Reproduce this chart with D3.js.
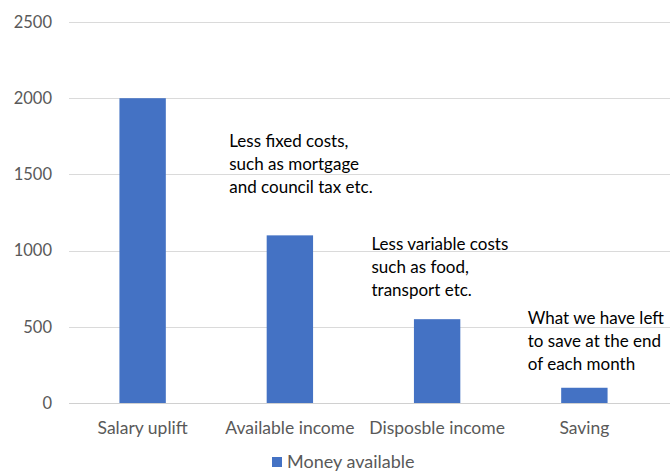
<!DOCTYPE html>
<html>
<head>
<meta charset="utf-8">
<script src="https://cdn.jsdelivr.net/npm/d3@7"></script>
<style>
  body { margin: 0; background: #fff; }
  text { font-family: Lato, "Open Sans", sans-serif; }
</style>
</head>
<body>
<svg id="chart"></svg>
<script>
// chart data
var categories = ["Salary uplift", "Available income", "Disposble income", "Saving"];
var moneyAvailable = [2000, 1100, 550, 100];
var yTicks = [0, 500, 1000, 1500, 2000, 2500];
var noteLines = [
  ["Less fixed costs,", "such as mortgage", "and council tax etc."],
  ["Less variable costs", "such as food,", "transport etc."],
  ["What we have left", "to save at the end", "of each month"]
];
var noteCats = [1, 2, 3];
var noteValues = [1720, 1045, 560];
var noteShift = [13, 8, 17];

var width = 670, height = 471;
var svg = d3.select("#chart").attr("width", width).attr("height", height);

var x = d3.scaleBand().domain(categories).range([69, 658]).padding(0);
var y = d3.scaleLinear().domain([0, 2500]).range([403, 22]);
var barW = x.bandwidth() * 0.315;

// gridlines
svg.append("g").selectAll("line").data(yTicks).join("line")
  .attr("x1", 69).attr("x2", 670)
  .attr("y1", function(d) { return Math.round(y(d)) + 0.5; })
  .attr("y2", function(d) { return Math.round(y(d)) + 0.5; })
  .attr("stroke", function(d) { return d === 0 ? "#d0d0d0" : "#dadada"; })
  .attr("stroke-width", 1);

// y labels
svg.append("g").selectAll("text").data(yTicks).join("text")
  .attr("x", 52).attr("y", function(d) { return y(d); })
  .attr("dy", "0.35em")
  .attr("text-anchor", "end")
  .attr("font-size", 16.5)
  .attr("fill", "#595959")
  .text(function(d) { return d; });

// bars
svg.append("g").selectAll("rect").data(moneyAvailable).join("rect")
  .attr("x", function(d, i) { return x(categories[i]) + x.bandwidth() / 2 - barW / 2; })
  .attr("y", function(d) { return y(d); })
  .attr("width", barW)
  .attr("height", function(d) { return y(0) - y(d); })
  .attr("fill", "#4472c4");

// x labels
svg.append("g").selectAll("text").data(categories).join("text")
  .attr("x", function(d) { return x(d) + x.bandwidth() / 2; })
  .attr("y", 428).attr("dy", "0.35em")
  .attr("text-anchor", "middle")
  .attr("font-size", 17.5)
  .attr("fill", "#595959")
  .text(function(d) { return d; });

// annotations
noteLines.forEach(function(lines, k) {
  var tx = x(categories[noteCats[k]]) + noteShift[k];
  var t = svg.append("text")
    .attr("x", tx)
    .attr("y", y(noteValues[k]))
    .attr("font-size", 17)
    .attr("fill", "#000");
  t.selectAll("tspan").data(lines).join("tspan")
    .attr("x", tx)
    .attr("dy", function(d, i) { return i === 0 ? "0.35em" : 23; })
    .text(function(d) { return d; });
});

// legend
var lg = svg.append("g").attr("transform", "translate(272,462)");
lg.append("rect").attr("x", 0).attr("y", -5).attr("width", 10).attr("height", 10).attr("fill", "#4472c4");
lg.append("text").attr("x", 15).attr("y", 0).attr("dy", "0.35em")
  .attr("font-size", 18).attr("fill", "#595959").text("Money available");
</script>
</body>
</html>
